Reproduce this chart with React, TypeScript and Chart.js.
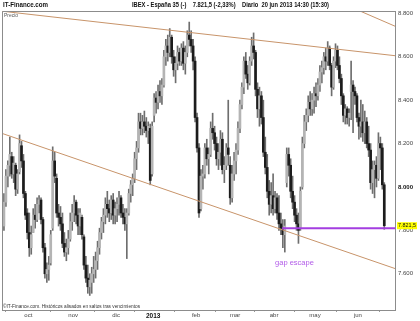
import { useEffect, useRef } from "react";
import { Chart, registerables } from "chart.js";

Chart.register(...registerables);

// Daily IBEX 35 candles, 12 sep 2012 .. 20 jun 2013 (trading-day index 0..195)
const opens = [
  7820, 7930, 8050, 8100, 8140, 8060, 8100, 7990, 8070, 8190, 8120, 7970, 7880,
  7790, 7720, 7790, 7870, 7850, 7920, 7940, 7850, 7720, 7600, 7620, 7650, 7810, 8120, 8040, 7880, 7860, 7830, 7740, 7700, 7720, 7760, 7840,
  7880, 7930, 7870, 7820, 7860, 7770, 7640, 7580, 7540, 7560, 7600, 7620, 7660, 7720, 7790, 7840, 7870, 7920, 7900, 7880, 7940, 7870,
  7900, 7920, 7950, 7880, 7860, 7830, 7880, 7970, 8010, 8040, 8130, 8180, 8300, 8270, 8300, 8280, 8260, 8270, 8060,
  8330, 8410, 8390, 8440, 8420, 8470, 8600, 8650, 8620, 8690, 8600, 8540, 8570, 8620, 8580, 8640, 8570, 8620, 8700, 8680, 8650, 8580,
  8320, 8180, 7900, 8050, 8060, 8180, 8130, 8150, 8270, 8250, 8200, 8130, 8160, 8220, 8080, 8100, 8180, 8100, 7950, 8060,
  8120, 8170, 8270, 8380, 8460, 8580, 8520, 8480, 8580, 8650, 8620, 8450, 8360, 8420, 8320, 8160, 8090, 7980, 7920, 7960,
  7900, 7950, 7880, 7830, 7810, 7780, 8020, 8150, 8100, 7980, 7930, 7870, 7830, 7810, 8000, 8200, 8300, 8330, 8390, 8360, 8400,
  8430, 8420, 8470, 8530, 8550, 8600, 8580, 8640, 8560, 8460, 8580, 8630, 8560, 8500, 8420, 8330, 8360, 8320, 8440, 8470, 8440, 8420,
  8320, 8280, 8300, 8250, 8300, 8200, 8170, 8020, 8080, 8100, 8040, 8200, 8180, 8010,
];
const highs = [
  7970, 8080, 8120, 8230, 8160, 8140, 8110, 8080, 8240, 8210, 8150, 7980, 7900,
  7880, 7820, 7900, 7920, 7950, 7960, 7950, 7860, 7740, 7650, 7680, 7800, 8185, 8160, 8060, 7920, 7910, 7880, 7790, 7760, 7800, 7880, 7920,
  7960, 7940, 7900, 7900, 7870, 7780, 7680, 7640, 7600, 7630, 7680, 7700, 7750, 7810, 7860, 7900, 7950, 7980, 7940, 7960, 7970, 7930,
  7950, 7980, 7960, 7920, 7900, 7900, 7990, 8030, 8060, 8160, 8210, 8340, 8340, 8330, 8350, 8320, 8300, 8290, 8300,
  8430, 8440, 8470, 8490, 8500, 8630, 8680, 8700, 8730, 8700, 8630, 8600, 8650, 8640, 8660, 8670, 8650, 8720, 8760, 8720, 8680, 8600,
  8340, 8200, 8080, 8100, 8200, 8220, 8180, 8300, 8340, 8280, 8230, 8200, 8260, 8250, 8140, 8200, 8400, 8140, 8100, 8160,
  8200, 8300, 8400, 8480, 8600, 8620, 8560, 8600, 8690, 8710, 8630, 8480, 8460, 8440, 8400, 8230, 8150, 8030, 8020, 8060,
  7980, 7970, 7960, 7880, 7850, 7850, 8180, 8180, 8130, 8050, 7960, 7900, 7880, 8000, 8230, 8330, 8360, 8420, 8440, 8430, 8460,
  8480, 8500, 8560, 8580, 8620, 8640, 8670, 8650, 8570, 8600, 8660, 8650, 8600, 8520, 8430, 8380, 8370, 8360, 8580, 8490, 8460, 8430,
  8340, 8400, 8380, 8350, 8320, 8280, 8200, 8120, 8120, 8140, 8250, 8230, 8200, 8020,
];
const lows = [
  7800, 7910, 8000, 8050, 8040, 8020, 7960, 7970, 8060, 8090, 7950, 7850, 7760,
  7680, 7690, 7790, 7810, 7840, 7880, 7830, 7700, 7580, 7560, 7570, 7640, 7800, 8020, 7860, 7820, 7800, 7720, 7680, 7660, 7690, 7750, 7800,
  7840, 7830, 7780, 7780, 7760, 7620, 7560, 7510, 7500, 7510, 7560, 7580, 7620, 7690, 7760, 7790, 7830, 7860, 7840, 7850, 7830, 7830,
  7840, 7870, 7860, 7830, 7800, 7670, 7870, 7930, 7960, 8020, 8080, 8160, 8240, 8240, 8250, 8230, 8200, 8010, 8050,
  8300, 8340, 8360, 8390, 8380, 8460, 8560, 8580, 8600, 8570, 8510, 8480, 8540, 8560, 8560, 8540, 8520, 8600, 8650, 8620, 8540, 8300,
  8160, 7860, 7890, 7990, 8040, 8100, 8060, 8140, 8220, 8170, 8100, 8080, 8100, 8060, 8020, 8080, 8100, 7920, 7930, 8030,
  8060, 8150, 8250, 8360, 8430, 8500, 8450, 8470, 8560, 8590, 8420, 8320, 8280, 8290, 8140, 8060, 7950, 7870, 7880, 7870,
  7880, 7850, 7800, 7780, 7720, 7700, 8000, 8050, 7950, 7900, 7840, 7800, 7740, 7800, 7990, 8180, 8260, 8300, 8330, 8330, 8340,
  8370, 8400, 8440, 8480, 8520, 8540, 8560, 8540, 8420, 8450, 8550, 8540, 8480, 8380, 8300, 8290, 8290, 8280, 8310, 8250, 8380, 8300,
  8220, 8230, 8210, 8200, 8180, 8140, 7990, 7970, 7950, 8000, 8030, 8080, 7990, 7805,
];
const closes = [
  7930, 8050, 8100, 8150, 8060, 8110, 7990, 8060, 8200, 8120, 7970, 7870, 7790,
  7720, 7780, 7870, 7850, 7920, 7940, 7850, 7720, 7600, 7620, 7640, 7780, 8120, 8050, 7880, 7860, 7830, 7740, 7700, 7720, 7760, 7840, 7880,
  7930, 7870, 7820, 7880, 7780, 7640, 7580, 7540, 7570, 7600, 7620, 7660, 7720, 7790, 7840, 7870, 7920, 7900, 7880, 7940, 7870, 7900,
  7920, 7950, 7880, 7860, 7830, 7880, 7970, 8010, 8040, 8130, 8180, 8300, 8270, 8300, 8280, 8260, 8280, 8030, 8280,
  8410, 8390, 8440, 8420, 8470, 8600, 8650, 8620, 8690, 8600, 8540, 8570, 8620, 8580, 8640, 8570, 8620, 8700, 8680, 8650, 8580, 8320,
  8180, 7880, 8050, 8060, 8180, 8130, 8150, 8270, 8250, 8200, 8130, 8160, 8220, 8080, 8100, 8180, 8150, 7950, 8060, 8120,
  8170, 8270, 8380, 8460, 8580, 8520, 8480, 8580, 8650, 8620, 8450, 8360, 8420, 8320, 8160, 8090, 7980, 7920, 7960, 7900,
  7950, 7880, 7830, 7810, 7780, 7820, 8150, 8100, 7980, 7930, 7870, 7830, 7800, 7980, 8200, 8300, 8330, 8390, 8360, 8400, 8430,
  8420, 8470, 8530, 8550, 8600, 8580, 8640, 8560, 8460, 8580, 8630, 8560, 8500, 8420, 8330, 8360, 8320, 8340, 8470, 8440, 8420, 8320,
  8280, 8300, 8250, 8300, 8200, 8170, 8020, 8080, 8100, 8040, 8200, 8180, 8010, 7821.5,
];

const monthLabels = ["oct", "nov", "dic", "2013", "feb", "mar", "abr", "may", "jun"];
const monthStartIndex = [13, 36, 58, 77, 99, 119, 139, 160, 182];
const priceTicks = [7600, 7800, 8000, 8200, 8400, 8600, 8800];

// trend lines: [trading-day index, price]
const upperTrend = [[-1, 8810], [200.5, 8605]];
const lowerTrend = [[-1, 8247], [200.5, 7624]];
const topTrend = [[181.5, 8815], [200.5, 8741]];
const gapLine = [[142.6, 7810], [200.5, 7810]];
const gapLabel = { text: "gap escape", index: 139, price: 7649 };
const lastPrice = 7821.5;

const FONT = "'Liberation Sans', Arial, sans-serif";
const TREND = "#c8946a";
const PURPLE = "#a33ee0";

const fmtThousands = (v: number) => {
  const s = String(Math.round(v));
  return s.length > 3 ? s.slice(0, s.length - 3) + "." + s.slice(-3) : s;
};

const overlay = {
  id: "overlay",
  afterDraw(chart: any) {
    const { ctx, chartArea: a, scales } = chart;
    const xs = scales.x;
    const ys = scales.y;
    ctx.save();
    // frame (left + top)
    ctx.strokeStyle = "#8c8c8c";
    ctx.lineWidth = 1;
    ctx.beginPath();
    ctx.moveTo(a.left + 0.5, a.bottom);
    ctx.lineTo(a.left + 0.5, a.top + 0.5);
    ctx.lineTo(a.right, a.top + 0.5);
    ctx.stroke();

    // header
    ctx.fillStyle = "#111";
    ctx.textBaseline = "middle";
    ctx.textAlign = "left";
    ctx.font = `bold 6.5px ${FONT}`;
    ctx.fillText("IT-Finance.com", 3, 5.5, 45);
    ctx.font = `bold 6.5px ${FONT}`;
    ctx.fillText(
      "IBEX - España 35 (-)    7.821,5 (-2,33%)    Diario  20 jun 2013 14:30 (15:30)",
      132, 5.5, 197
    );

    // Precio label
    ctx.fillStyle = "#555";
    ctx.font = `5.5px ${FONT}`;
    ctx.fillText("Precio", 4, 15, 14);

    // footer
    ctx.fillStyle = "#333";
    ctx.font = `5.5px ${FONT}`;
    ctx.fillText("©IT-Finance.com. Históricos alisados en saltos tras vencimientos", 3, a.bottom - 3.5, 137);

    // gap escape label
    ctx.fillStyle = "#b25ce8";
    ctx.font = `7.5px ${FONT}`;
    ctx.fillText(gapLabel.text, xs.getPixelForValue(gapLabel.index), ys.getPixelForValue(gapLabel.price), 39);

    // last price box
    const py = ys.getPixelForValue(lastPrice);
    ctx.fillStyle = "#ffff00";
    ctx.fillRect(a.right + 2, py - 3.5, 20, 7);
    ctx.fillStyle = "#111";
    ctx.font = `6px ${FONT}`;
    ctx.fillText("7.821,5", a.right + 3, py, 18);
    ctx.restore();
  },
};

export default function App() {
  const ref = useRef<HTMLCanvasElement>(null);

  useEffect(() => {
    const idx = closes.map((_, i) => i);
    const wickData = idx.map((i) => ({ x: i, y: [lows[i], highs[i]] }));
    const bodyData = idx.map((i) => {
      const lo = Math.min(opens[i], closes[i]);
      const hi = Math.max(opens[i], closes[i]);
      return { x: i, y: [lo, hi === lo ? hi + 4 : hi] };
    });
    const bodyColors = idx.map((i) => (closes[i] >= opens[i] ? "#b4b4b4" : "#1c1c1c"));
    const toPts = (arr: number[][]) => arr.map(([x, y]) => ({ x, y }));

    const chart = new Chart(ref.current as HTMLCanvasElement, {
      type: "bar",
      data: {
        datasets: [
          { type: "line", data: toPts(upperTrend), borderColor: TREND, borderWidth: 1, pointRadius: 0, order: 1 } as any,
          { type: "line", data: toPts(lowerTrend), borderColor: TREND, borderWidth: 1, pointRadius: 0, order: 1 } as any,
          { type: "line", data: toPts(topTrend), borderColor: TREND, borderWidth: 1, pointRadius: 0, order: 1 } as any,
          { type: "line", data: toPts(gapLine), borderColor: PURPLE, borderWidth: 2, pointRadius: 0, order: 0 } as any,
          { data: wickData, backgroundColor: "#6e6e6e", barThickness: 1, grouped: false, order: 3 } as any,
          { data: bodyData, backgroundColor: bodyColors, barThickness: 2, grouped: false, order: 2 } as any,
        ],
      },
      options: {
        responsive: false,
        animation: false,
        devicePixelRatio: 1,
        layout: { padding: { left: 2, top: 11, right: 0, bottom: 0 } },
        plugins: { legend: { display: false }, tooltip: { enabled: false } },
        scales: {
          x: {
            type: "linear",
            min: -1,
            max: 200.5,
            offset: false,
            afterBuildTicks: (s: any) => {
              s.ticks = monthStartIndex.map((v) => ({ value: v - 0.5 }));
            },
            afterFit: (s: any) => {
              s.height = 11;
            },
            grid: { display: true, drawOnChartArea: false, drawTicks: true, tickLength: 2, color: "#999" },
            border: { display: true, color: "#8c8c8c" },
            ticks: {
              autoSkip: false,
              maxRotation: 0,
              padding: 0,
              color: (c: any) => (c.index === 3 ? "#111" : "#444"),
              font: (c: any) => ({ family: FONT, size: c.index === 3 ? 6.5 : 6, weight: c.index === 3 ? "bold" : "normal" }),
              callback: (_v: any, i: number) => monthLabels[i],
            },
          },
          y: {
            position: "right",
            min: 7433,
            max: 8811,
            afterBuildTicks: (s: any) => {
              s.ticks = priceTicks.map((v) => ({ value: v }));
            },
            afterFit: (s: any) => {
              s.width = 25;
            },
            grid: { display: true, drawOnChartArea: false, drawTicks: false },
            border: { display: true, color: "#8c8c8c" },
            ticks: {
              padding: 3,
              color: (c: any) => (c.tick && c.tick.value === 8000 ? "#111" : "#444"),
              font: (c: any) => ({ family: FONT, size: 6, weight: c.tick && c.tick.value === 8000 ? "bold" : "normal" }),
              callback: (v: any) => fmtThousands(Number(v)),
            },
          },
        },
      },
      plugins: [overlay],
    } as any);
    return () => chart.destroy();
  }, []);

  return (
    <div style={{ position: "fixed", left: 0, top: 0, width: 420, height: 321, background: "#fff" }}>
      <canvas ref={ref} width={420} height={321} style={{ display: "block", width: 420, height: 321 }} />
    </div>
  );
}
